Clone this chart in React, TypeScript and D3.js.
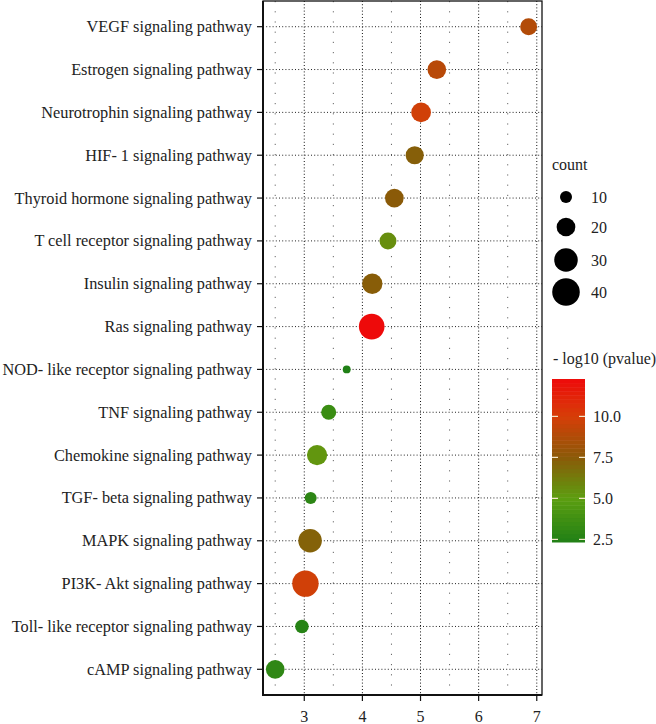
import React from "react";
import * as d3 from "d3";

const categories = [
  "VEGF signaling pathway",
  "Estrogen signaling pathway",
  "Neurotrophin signaling pathway",
  "HIF- 1 signaling pathway",
  "Thyroid hormone signaling pathway",
  "T cell receptor signaling pathway",
  "Insulin signaling pathway",
  "Ras signaling pathway",
  "NOD- like receptor signaling pathway",
  "TNF signaling pathway",
  "Chemokine signaling pathway",
  "TGF- beta signaling pathway",
  "MAPK signaling pathway",
  "PI3K- Akt signaling pathway",
  "Toll- like receptor signaling pathway",
  "cAMP signaling pathway",
];
const enrichment = [6.86, 5.28, 5.01, 4.9, 4.55, 4.44, 4.17, 4.16, 3.73, 3.42, 3.22, 3.11, 3.1, 3.02, 2.96, 2.5];
const counts = [17, 20, 22, 19, 20, 17, 23, 35, 6, 14, 23, 10, 30, 37, 12, 20];
const logp = [8.8, 9.0, 9.8, 7.3, 7.5, 5.6, 7.4, 12.28, 2.34, 3.5, 5.3, 2.9, 7.2, 9.8, 2.6, 3.0];

const xTicks = [3, 4, 5, 6, 7];
const xMinor = [2.5, 3.5, 4.5, 5.5, 6.5];
const sizeBreaks = [10, 20, 30, 40];
const colorBreaks = [2.5, 5.0, 7.5, 10.0];
const colorDomain = [2.34, 12.28];
const colorStops = [2.34, 5.0, 7.5, 10.0, 12.28];
const colorValues = ["#208016", "#5c9e10", "#8a5a08", "#d63e08", "#ee0a0a"];

const FONT = "'Liberation Serif', 'Times New Roman', serif";

export default function App() {
  const left = 263, right = 542, top = 1, bottom = 695;
  const x = d3.scaleLinear().domain([2.29, 7.09]).range([left, right]);
  const y = d3.scalePoint<string>().domain(categories).range([top, bottom]).padding(0.6);
  const area = d3.scaleLinear().domain([10, 40]).range([36, 190]);
  const r = (c: number) => Math.sqrt(Math.max(area(c), 4));
  const color = d3.scaleLinear<string>().domain(colorStops).range(colorValues).interpolate(d3.interpolateRgb);

  const barX = 552, barW = 33;
  const cy = d3.scaleLinear().domain(colorDomain).range([542, 379]);
  const nbin = 40;
  const bins = d3.range(nbin).map((i) => {
    const v0 = colorDomain[0] + ((colorDomain[1] - colorDomain[0]) * i) / nbin;
    const v1 = colorDomain[0] + ((colorDomain[1] - colorDomain[0]) * (i + 1)) / nbin;
    return { v0, v1, mid: (v0 + v1) / 2 };
  });

  const sizeY = [197, 227, 260, 292];

  return (
    <svg
      width={656}
      height={724}
      style={{ position: "absolute", left: 0, top: 0, background: "#fff" }}
      fontFamily={FONT}
    >
      {xMinor.map((t) => (
        <line key={"m" + t} x1={x(t)} x2={x(t)} y1={top} y2={bottom} stroke="#666" strokeWidth={1} strokeDasharray="1.2,9" />
      ))}
      {xTicks.map((t) => (
        <line key={"v" + t} x1={x(t)} x2={x(t)} y1={top} y2={bottom} stroke="#111" strokeWidth={1} strokeDasharray="1,2.2" />
      ))}
      {categories.map((c) => (
        <line key={"h" + c} x1={left} x2={right} y1={y(c)} y2={y(c)} stroke="#222" strokeWidth={1} strokeDasharray="1,2.2" />
      ))}
      {categories.map((c, i) => (
        <circle key={"p" + c} cx={x(enrichment[i])} cy={y(c)} r={r(counts[i])} fill={color(logp[i])} />
      ))}
      <rect x={left} y={top} width={right - left} height={bottom - top} fill="none" stroke="#111" strokeWidth={1.3} />
      <line x1={left} x2={left} y1={top} y2={bottom + 1} stroke="#111" strokeWidth={2} />
      <line x1={left} x2={right} y1={bottom} y2={bottom} stroke="#111" strokeWidth={2} />
      {categories.map((c) => (
        <g key={"yl" + c}>
          <line x1={left - 6} x2={left} y1={y(c)} y2={y(c)} stroke="#111" strokeWidth={1.2} />
          <text x={left - 11} y={y(c)} textAnchor="end" dominantBaseline="central" fontSize={16.3} fill="#222">
            {c}
          </text>
        </g>
      ))}
      {xTicks.map((t) => (
        <g key={"xt" + t}>
          <line x1={x(t)} x2={x(t)} y1={bottom} y2={bottom + 6} stroke="#111" strokeWidth={1.2} />
          <text x={x(t)} y={bottom + 27} textAnchor="middle" fontSize={16} fill="#222">
            {t}
          </text>
        </g>
      ))}
      <text x={552} y={170} fontSize={16} fill="#222">count</text>
      {sizeBreaks.map((s, i) => (
        <g key={"sl" + s}>
          <circle cx={566} cy={sizeY[i]} r={r(s)} fill="#000" />
          <text x={591} y={sizeY[i]} dominantBaseline="central" fontSize={16} fill="#222">
            {s}
          </text>
        </g>
      ))}
      <text x={553} y={364} fontSize={16} fill="#222">- log10 (pvalue)</text>
      {bins.map((b, i) => (
        <rect key={"cb" + i} x={barX} y={cy(b.v1)} width={barW} height={cy(b.v0) - cy(b.v1) + 0.5} fill={color(b.mid)} />
      ))}
      {colorBreaks.map((v) => (
        <g key={"cl" + v}>
          <line x1={barX} x2={barX + 6} y1={cy(v)} y2={cy(v)} stroke="#f3e6c8" strokeWidth={1.2} />
          <line x1={barX + barW - 6} x2={barX + barW} y1={cy(v)} y2={cy(v)} stroke="#f3e6c8" strokeWidth={1.2} />
          <text x={593} y={cy(v)} dominantBaseline="central" fontSize={16} fill="#222">
            {v.toFixed(1)}
          </text>
        </g>
      ))}
    </svg>
  );
}
